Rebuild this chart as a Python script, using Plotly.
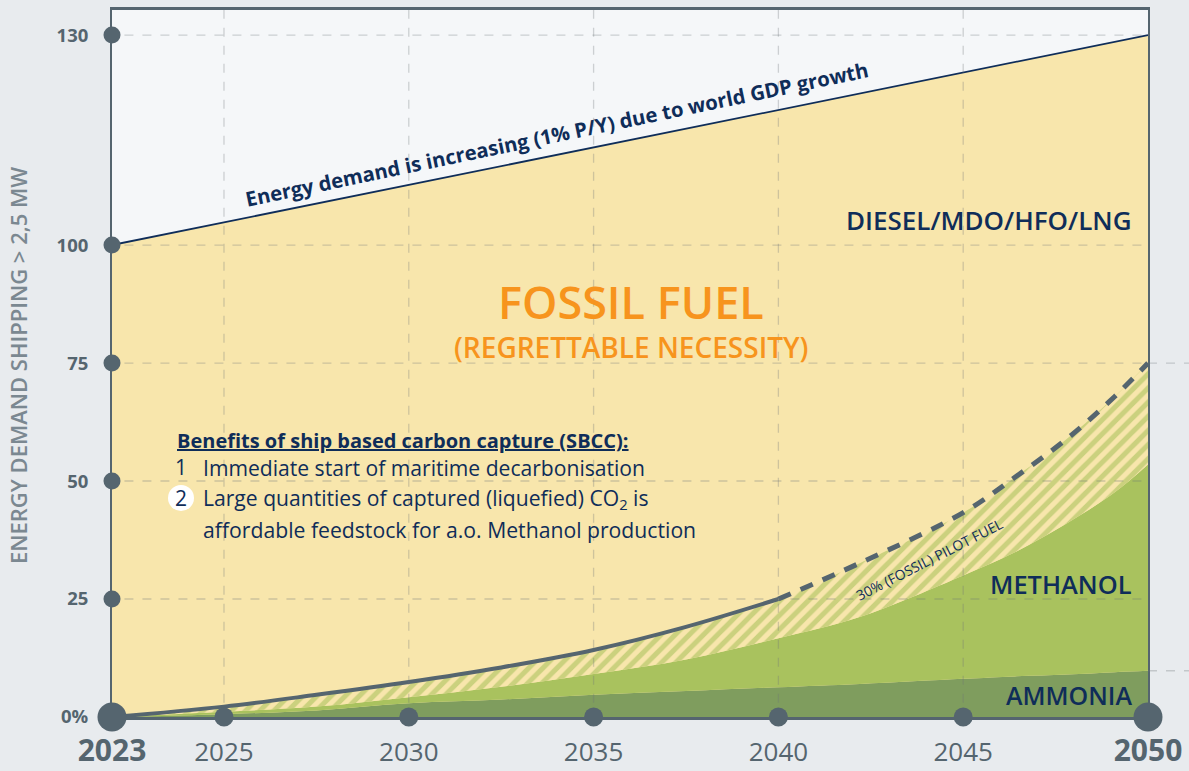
import plotly.graph_objects as go

# ---------------- data ----------------
years = [2023, 2025, 2027.5, 2030, 2032.5, 2035, 2037.5, 2040, 2042.2, 2045, 2046.4, 2047.8, 2049.1, 2050]
ammonia_top = [0, 0.6, 1.4, 2.9, 3.7, 4.7, 5.5, 6.3, 7.0, 8.1, 8.6, 9.0, 9.5, 9.8]
methanol_top = [0, 1.1, 2.2, 4.2, 6.4, 9.1, 12.2, 16.7, 21.2, 30.0, 34.9, 41.0, 47.6, 53.5]
alt_fuel_top = [0, 2.2, 4.7, 7.4, 10.5, 14.2, 19.1, 25.0, 32.6, 43.3, 50.8, 58.9, 67.9, 75.0]
solid_until = 2040
demand_years = [2023, 2050]
demand = [100, 130]
x_ticks = [2023, 2025, 2030, 2035, 2040, 2045, 2050]
y_ticks = [0, 25, 50, 75, 100, 130]
y_tick_labels = ["0%", "25", "50", "75", "100", "130"]

# ---------------- styling ----------------
FONT = "Open Sans"
NAVY = "#0f2d59"
SLATE = "#55656f"
ORANGE = "#f7941d"
YELLOW = "#f8e6ac"
GREEN = "#a9c25e"
HATCH = "#9dbb4f"
DKGREEN = "#7f9d5e"
PAPER = "#e8ebee"
SKY = "#f5f7f9"
GRID = "rgba(110,115,120,0.30)"

W, H = 1189, 771
ML, MR, MT, MB = 112, 41, 10, 54
PW, PH = W - ML - MR, H - MT - MB

# the reference uses a broken (piecewise) scale on both axes
X_FIRST_SEG = 1.515   # 2023-2025 is drawn compressed
Y_UPPER_SEG = 1.483   # 100-130 is drawn stretched


def xmap(t):
    return t if t >= 2025 else 2025 - (2025 - t) * X_FIRST_SEG


def ymap(v):
    return v if v <= 100 else 100 + (v - 100) * Y_UPPER_SEG


X_RANGE = [xmap(2023), 2050]
Y_RANGE = [0, 149.8]


def P(xp, yp):
    """pixel position -> paper coordinates"""
    return (xp - ML) / PW, (H - MB - yp) / PH


xs = [xmap(t) for t in years]
fig = go.Figure()

# fossil area under demand line
fig.add_trace(go.Scatter(x=[xmap(t) for t in demand_years], y=[ymap(v) for v in demand],
                         mode="lines", fill="tozeroy", fillcolor=YELLOW,
                         line=dict(color=NAVY, width=1.8), hoverinfo="skip"))
# ammonia
fig.add_trace(go.Scatter(x=xs, y=ammonia_top, mode="lines", fill="tozeroy", fillcolor=DKGREEN,
                         line=dict(width=0, shape="spline", color=DKGREEN), hoverinfo="skip"))
# methanol
fig.add_trace(go.Scatter(x=xs, y=methanol_top, mode="lines", fill="tonexty", fillcolor=GREEN,
                         line=dict(width=0, shape="spline", color=GREEN), hoverinfo="skip"))
# pilot fuel (hatched)
fig.add_trace(go.Scatter(x=xs, y=alt_fuel_top, mode="lines", fill="tonexty",
                         fillpattern=dict(shape="/", fgcolor=HATCH, bgcolor=YELLOW, size=10, solidity=0.5),
                         line=dict(width=0, shape="spline", color=GREEN), hoverinfo="skip"))
# top curve: solid then dashed
i_split = years.index(solid_until)
fig.add_trace(go.Scatter(x=xs[:i_split + 1], y=alt_fuel_top[:i_split + 1], mode="lines",
                         line=dict(color=SLATE, width=4, shape="spline"), hoverinfo="skip"))
fig.add_trace(go.Scatter(x=xs[i_split:], y=alt_fuel_top[i_split:], mode="lines",
                         line=dict(color=SLATE, width=5, shape="spline", dash="13px,11px"),
                         hoverinfo="skip"))

# ---------------- grid lines (drawn above fills, as in reference) ----------------
shapes = []
for t in x_ticks[1:-1]:
    shapes.append(dict(type="line", xref="x", yref="paper", x0=xmap(t), x1=xmap(t), y0=0.02, y1=1,
                       line=dict(color=GRID, width=1.3, dash="dash"), layer="above"))
for v in y_ticks[1:]:
    shapes.append(dict(type="line", xref="paper", yref="y", x0=0.012, x1=1, y0=ymap(v), y1=ymap(v),
                       line=dict(color=GRID, width=1.3, dash="dash"), layer="above"))
for v in (alt_fuel_top[-1], ammonia_top[-1]):
    shapes.append(dict(type="line", xref="paper", yref="y", x0=1, x1=1.04, y0=v, y1=v,
                       line=dict(color=GRID, width=1.3, dash="dash"), layer="above"))
# white circle behind item number 2
cx0, cy0 = P(168, 511)
cx1, cy1 = P(194, 485)
shapes.append(dict(type="circle", xref="paper", yref="paper", x0=cx0, x1=cx1, y0=cy0, y1=cy1,
                   fillcolor="white", line=dict(width=0), layer="above"))

# axis dots as shapes-free markers (drawn last)
fig.add_trace(go.Scatter(x=[xmap(2023)] * (len(y_ticks) - 1), y=[ymap(v) for v in y_ticks[1:]],
                         mode="markers", marker=dict(size=17, color=SLATE, opacity=1, line=dict(width=0)),
                         cliponaxis=False, hoverinfo="skip"))
fig.add_trace(go.Scatter(x=[xmap(t) for t in x_ticks], y=[0] * len(x_ticks), mode="markers",
                         marker=dict(size=[29 if t in (x_ticks[0], x_ticks[-1]) else 19 for t in x_ticks],
                                     color=SLATE, opacity=1, line=dict(width=0)),
                         cliponaxis=False, hoverinfo="skip"))

# ---------------- annotations ----------------
ann = []


def add(text, xp, yp, size, color=NAVY, xanchor="center", angle=0, weight=400):
    x, y = P(xp, yp)
    ann.append(dict(text=text, x=x, y=y, xref="paper", yref="paper",
                    xanchor=xanchor, yanchor="middle", showarrow=False, textangle=angle,
                    font=dict(family=FONT, size=size, color=color, weight=weight)))


add("Energy demand is increasing (1% P/Y) due to world GDP growth", 557, 134, 20.3, weight=700, angle=-11.8)
add("DIESEL/MDO/HFO/LNG", 1134, 220, 26, xanchor="right", weight=600)
add("FOSSIL FUEL", 631, 301, 45, color=ORANGE, weight=600)
add("(REGRETTABLE NECESSITY)", 631, 347, 28, color=ORANGE, weight=600)
add("<u>Benefits of ship based carbon capture (SBCC):</u>", 175, 440, 20, xanchor="left", weight=700)
add("1", 181, 467, 21)
add("Immediate start of maritime decarbonisation", 201, 467, 21.1, xanchor="left")
add("2", 181, 498, 21)
add("Large quantities of captured (liquefied) CO<sub>2</sub> is", 201, 498, 21.1, xanchor="left")
add("affordable feedstock for a.o. Methanol production", 201, 529, 21.2, xanchor="left")
add("30% (FOSSIL) PILOT FUEL", 929, 559, 14, angle=-27, weight=500)
add("METHANOL", 1134, 584, 25.4, xanchor="right", weight=600)
add("AMMONIA", 1134, 695, 25, xanchor="right", weight=600)
add("ENERGY DEMAND SHIPPING > 2,5 MW", 18, 366, 22, color="#7b8891", angle=-90, weight=600)

x_ticktext = [f"<b><span style='font-size:30px'>{t}</span></b>" if t in (x_ticks[0], x_ticks[-1]) else str(t)
              for t in x_ticks]

fig.update_layout(
    width=W, height=H, margin=dict(l=ML, r=MR, t=MT, b=MB),
    paper_bgcolor=PAPER, plot_bgcolor=SKY, showlegend=False,
    shapes=shapes, annotations=ann,
    xaxis=dict(range=X_RANGE, tickvals=[xmap(t) for t in x_ticks], ticktext=x_ticktext,
               tickfont=dict(family=FONT, size=26, color=SLATE), ticks="outside", ticklen=10,
               tickcolor="rgba(0,0,0,0)", showgrid=False, zeroline=False, showline=True,
               linecolor=SLATE, linewidth=2.5, mirror=True, fixedrange=True, automargin=False),
    yaxis=dict(range=Y_RANGE, tickvals=[ymap(v) for v in y_ticks],
               ticktext=[f"<b>{s}</b>" for s in y_tick_labels],
               tickfont=dict(family=FONT, size=18.5, color=SLATE), ticks="outside", ticklen=18,
               tickcolor="rgba(0,0,0,0)", showgrid=False, zeroline=False, showline=True,
               linecolor=SLATE, linewidth=2, mirror=True, fixedrange=True, automargin=False),
)

fig.write_html("out.html", config={"displayModeBar": False},
               post_script="document.body.style.margin='0px';")
